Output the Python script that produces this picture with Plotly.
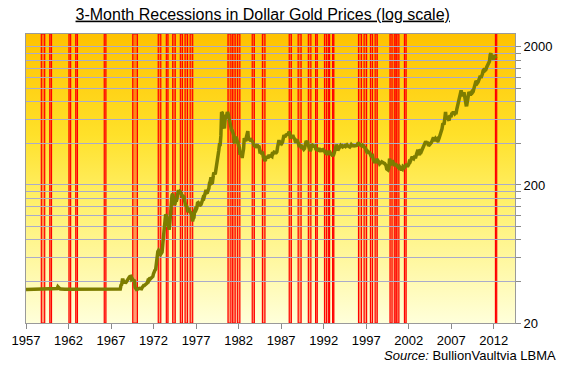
import base64
import numpy as np
import plotly.graph_objects as go

# Monthly dollar gold price (USD/oz), Jan 1957 onwards
gold_1957_1967 = [
    35.0, 35.0, 35.0, 35.0, 35.0, 35.0, 35.0, 35.0, 35.0, 35.0, 35.0, 35.0,
    35.0, 35.0, 35.0, 35.0, 35.0, 35.0, 35.0, 35.0, 35.1, 35.1, 35.1, 35.1,
    35.1, 35.1, 35.1, 35.1, 35.1, 35.1, 35.1, 35.1, 35.1, 35.1, 35.1, 35.1,
    35.1, 35.1, 35.1, 35.1, 35.1, 35.1, 35.2, 35.3, 35.5, 36.6, 36.0, 35.6,
    35.3, 35.2, 35.1, 35.1, 35.1, 35.1, 35.1, 35.1, 35.1, 35.1, 35.1, 35.1,
    35.1, 35.1, 35.1, 35.1, 35.1, 35.1, 35.1, 35.1, 35.1, 35.1, 35.1, 35.1,
    35.1, 35.1, 35.1, 35.1, 35.1, 35.1, 35.1, 35.1, 35.1, 35.1, 35.1, 35.1,
    35.1, 35.1, 35.1, 35.1, 35.1, 35.1, 35.1, 35.1, 35.1, 35.1, 35.1, 35.1,
    35.1, 35.1, 35.1, 35.1, 35.1, 35.1, 35.1, 35.1, 35.1, 35.1, 35.1, 35.1,
    35.1, 35.1, 35.1, 35.1, 35.1, 35.1, 35.1, 35.1, 35.1, 35.1, 35.1, 35.1,
    35.1, 35.1, 35.1, 35.1, 35.1, 35.1, 35.1, 35.1, 35.1, 35.1, 35.1, 35.1,
]
gold_1968_1979 = [
    35.1, 35.2, 37.5, 38.0, 41.0, 41.0, 39.5, 39.3, 39.6, 39.4, 40.0, 41.0,
    42.3, 42.6, 43.2, 43.4, 43.5, 41.4, 41.8, 41.0, 40.8, 40.4, 36.2, 35.2,
    34.9, 35.0, 35.2, 35.7, 35.6, 35.5, 35.3, 35.4, 36.2, 37.5, 37.4, 37.4,
    37.9, 38.7, 38.9, 39.0, 40.5, 40.1, 41.0, 42.7, 42.0, 42.5, 42.9, 43.5,
    45.7, 48.3, 48.3, 49.0, 54.6, 62.1, 65.7, 67.0, 65.5, 64.9, 62.9, 63.9,
    65.1, 74.2, 84.4, 90.5, 102.0, 122.5, 120.2, 106.8, 103.0, 100.1, 94.8, 106.7,
    129.2, 150.2, 168.4, 172.2, 163.3, 154.1, 143.0, 154.6, 151.8, 158.8, 181.7, 183.9,
    176.3, 179.6, 178.0, 169.8, 167.4, 164.3, 165.2, 163.1, 144.1, 142.8, 142.2, 139.3,
    131.2, 131.5, 132.6, 128.1, 126.6, 125.6, 118.0, 109.2, 114.3, 116.0, 130.3, 133.8,
    132.3, 136.3, 148.1, 149.2, 146.6, 140.8, 143.3, 144.6, 149.5, 159.4, 162.1, 160.5,
    173.2, 178.2, 183.7, 175.3, 176.3, 183.7, 188.7, 206.4, 212.4, 227.5, 206.1, 207.8,
    227.3, 245.7, 242.1, 239.2, 257.6, 279.1, 294.4, 300.8, 355.2, 392.0, 392.4, 455.1,
]
gold_1980s = [
    675.3, 665.3, 553.6, 517.4, 513.8, 600.7, 644.3, 626.5, 673.6, 661.1, 623.5, 594.9,
    557.6, 500.5, 499.8, 495.8, 479.7, 460.8, 409.3, 410.1, 443.6, 437.8, 413.4, 410.1,
    384.4, 374.2, 330.0, 350.3, 333.5, 314.0, 339.0, 364.9, 436.0, 422.0, 414.1, 445.0,
    480.0, 491.1, 420.0, 432.2, 437.4, 413.0, 422.3, 416.2, 412.0, 394.0, 381.7, 388.1,
    370.9, 385.7, 394.3, 381.2, 377.4, 378.3, 347.5, 348.1, 341.3, 340.2, 341.2, 320.2,
    302.7, 299.1, 304.0, 324.1, 316.4, 316.8, 317.4, 330.3, 323.2, 325.8, 325.3, 322.4,
    345.5, 338.9, 345.7, 340.4, 342.5, 342.6, 348.2, 376.6, 418.4, 423.2, 398.5, 391.3,
    408.3, 401.0, 408.9, 438.3, 460.2, 449.6, 450.6, 461.2, 460.2, 465.4, 467.4, 486.3,
    476.7, 442.1, 443.6, 451.8, 451.3, 451.5, 437.6, 431.4, 413.4, 406.8, 420.2, 418.6,
    404.0, 387.8, 390.2, 384.3, 371.1, 367.6, 375.0, 365.4, 361.8, 366.9, 393.9, 409.3,
]
gold_1990s = [
    410.1, 416.8, 393.1, 374.3, 369.1, 352.3, 362.5, 394.7, 389.3, 380.8, 381.2, 378.2,
    383.6, 363.8, 363.3, 358.4, 356.8, 366.7, 367.7, 356.4, 348.7, 358.7, 359.8, 361.2,
    354.5, 353.9, 344.3, 338.6, 337.2, 340.9, 353.2, 340.0, 345.4, 344.4, 335.0, 334.7,
    329.0, 329.3, 330.1, 342.2, 367.2, 371.9, 392.1, 379.5, 355.5, 364.2, 373.5, 383.8,
    386.9, 381.9, 384.1, 377.3, 381.5, 385.6, 385.5, 380.5, 391.6, 389.8, 384.4, 379.3,
    378.6, 376.5, 382.1, 391.0, 385.2, 387.6, 386.2, 383.8, 383.0, 383.1, 386.0, 387.4,
    400.0, 405.0, 396.2, 392.9, 391.9, 385.3, 383.5, 387.5, 383.1, 381.1, 378.0, 369.0,
    355.0, 346.6, 351.8, 344.5, 343.8, 340.8, 324.1, 324.0, 322.8, 324.9, 306.0, 288.7,
    289.1, 297.5, 295.9, 308.4, 299.1, 292.3, 292.9, 284.1, 288.9, 296.2, 294.1, 291.6,
    287.1, 287.3, 286.0, 282.4, 276.4, 261.3, 256.2, 256.7, 264.7, 310.7, 293.2, 283.1,
]
gold_2000s = [
    284.6, 300.9, 286.4, 280.0, 275.3, 285.7, 281.6, 274.5, 273.7, 270.0, 266.0, 271.5,
    265.5, 261.9, 263.0, 260.5, 272.4, 270.2, 267.5, 272.4, 283.4, 283.1, 276.2, 275.9,
    281.7, 295.5, 294.0, 302.7, 314.5, 321.2, 313.3, 310.3, 319.2, 316.6, 319.1, 333.4,
    356.9, 359.0, 340.6, 328.2, 355.7, 356.4, 351.0, 359.8, 378.9, 378.9, 389.9, 407.6,
    414.0, 405.3, 406.7, 403.0, 383.5, 392.4, 398.1, 400.5, 405.3, 420.5, 439.4, 442.1,
    424.0, 423.4, 434.2, 429.2, 421.9, 430.7, 424.5, 437.9, 456.0, 469.9, 476.7, 509.8,
    549.9, 555.0, 557.1, 610.6, 675.4, 596.2, 633.7, 632.6, 598.2, 585.8, 627.8, 629.8,
    631.2, 664.8, 654.9, 679.4, 666.9, 655.5, 665.3, 665.4, 712.7, 754.6, 806.3, 803.2,
    889.6, 922.3, 968.4, 909.7, 888.7, 889.5, 939.8, 839.0, 829.9, 760.0, 760.9, 816.1,
    858.7, 943.2, 924.3, 890.2, 928.6, 945.7, 934.2, 949.4, 996.6, 1043.2, 1127.0, 1134.7,
]
gold_2010s = [
    1117.9, 1095.4, 1113.3, 1148.7, 1205.4, 1232.9, 1193.0, 1215.8, 1270.9, 1342.0, 1369.9, 1390.6,
    1356.4, 1372.7, 1424.0, 1473.8, 1510.4, 1528.7, 1572.8, 1755.8, 1800.0, 1665.2, 1738.9, 1652.3,
    1654.1, 1744.8, 1675.9, 1649.2,
]

# 3-month recession periods (decimal years)
rec_start = [1958.80, 1959.80, 1962.05, 1962.85, 1966.20, 1969.55, 1972.55, 1973.50,
             1974.25, 1975.15, 1975.70, 1976.30, 1980.75, 1981.30, 1981.85, 1983.60,
             1984.80, 1987.95, 1989.00, 1990.20, 1991.05, 1992.10, 1992.55, 1993.05,
             1996.10, 1996.75, 1997.50, 1998.05, 1999.80, 2000.30, 2000.60, 2001.50,
             2012.20]
rec_end = [1959.20, 1960.00, 1962.25, 1963.05, 1966.40, 1970.10, 1972.85, 1973.70,
           1974.55, 1975.40, 1976.00, 1976.60, 1981.10, 1981.60, 1982.15, 1983.85,
           1985.10, 1988.20, 1989.35, 1990.50, 1991.25, 1992.35, 1992.70, 1993.20,
           1996.45, 1997.05, 1997.75, 1998.30, 2000.05, 2000.50, 2000.85, 2001.70,
           2012.35]

x_tick_years = [1957, 1962, 1967, 1972, 1977, 1982, 1987, 1992, 1997, 2002, 2007, 2012]
y_grid_values = [20, 40, 60, 80, 100, 120, 140, 160, 180, 200,
                 400, 600, 800, 1000, 1200, 1400, 1600, 1800, 2000]
y_tick_labels = {20: "20", 200: "200", 2000: "2000"}

prices = gold_1957_1967 + gold_1968_1979 + gold_1980s + gold_1990s + gold_2000s + gold_2010s
months = 1957 + np.arange(len(prices)) / 12.0

FONT = "Liberation Sans, Arial, sans-serif"

fig = go.Figure()
fig.add_trace(go.Scatter(
    x=months, y=prices, mode="lines",
    line=dict(color="#7d7d00", width=3.5),
    showlegend=False, hoverinfo="skip",
))

shapes = []
for s, e in zip(rec_start, rec_end):
    shapes.append(dict(
        type="rect", xref="x", yref="paper", x0=s, x1=e, y0=0, y1=1,
        fillcolor="rgba(255,40,0,0.45)", line=dict(color="#ff0000", width=1.2),
        layer="between",
    ))

svg = ('<svg xmlns="http://www.w3.org/2000/svg" width="10" height="100" '
       'preserveAspectRatio="none"><defs><linearGradient id="g" x1="0" y1="0" x2="0" y2="1">'
       '<stop offset="0" stop-color="#FFC200"/>'
       '<stop offset="0.35" stop-color="#FFE12A"/>'
       '<stop offset="0.6" stop-color="#FFF170"/>'
       '<stop offset="1" stop-color="#FFFFDA"/>'
       '</linearGradient></defs><rect width="10" height="100" fill="url(#g)"/></svg>')
bg_src = "data:image/svg+xml;base64," + base64.b64encode(svg.encode()).decode()

fig.update_layout(
    width=565, height=369,
    margin=dict(l=20, r=49, t=34, b=46),
    paper_bgcolor="white",
    plot_bgcolor="rgba(0,0,0,0)",
    font=dict(family=FONT, size=13, color="black"),
    title=dict(
        text="<u>3-Month Recessions in Dollar Gold Prices (log scale)</u>",
        x=0.465, xanchor="center", y=0.962, yanchor="middle",
        font=dict(family=FONT, size=16, color="black"),
    ),
    shapes=shapes,
    images=[dict(source=bg_src, xref="paper", yref="paper", x=0, y=1,
                 sizex=1, sizey=1, xanchor="left", yanchor="top",
                 sizing="stretch", layer="below")],
    xaxis=dict(
        range=[1957, 2014.5], tickmode="array", tickvals=x_tick_years,
        ticktext=[str(v) for v in x_tick_years],
        ticks="outside", ticklen=5, tickcolor="#8a8a8a",
        showgrid=False, zeroline=False,
        showline=True, linecolor="#9a9a9a", linewidth=1, mirror=True,
        tickfont=dict(size=13),
    ),
    yaxis=dict(
        type="log", side="right",
        range=[np.log10(20), np.log10(2480)],
        tickmode="array", tickvals=y_grid_values,
        ticktext=[y_tick_labels.get(v, "") for v in y_grid_values],
        ticks="outside", ticklen=5, tickcolor="#8a8a8a",
        showgrid=True, gridcolor="#a9abcb", gridwidth=1,
        zeroline=False,
        showline=True, linecolor="#9a9a9a", linewidth=1, mirror=True,
        tickfont=dict(size=13),
    ),
    annotations=[dict(
        text="<i>Source:</i> BullionVaultvia LBMA",
        xref="paper", yref="paper", x=1.087, y=-0.111,
        xanchor="right", yanchor="middle", showarrow=False,
        font=dict(family=FONT, size=13, color="black"),
    )],
)

fig.write_html(
    "out.html",
    config={"displayModeBar": False},
    post_script="document.body.style.margin='0';document.body.style.overflow='hidden';",
)
